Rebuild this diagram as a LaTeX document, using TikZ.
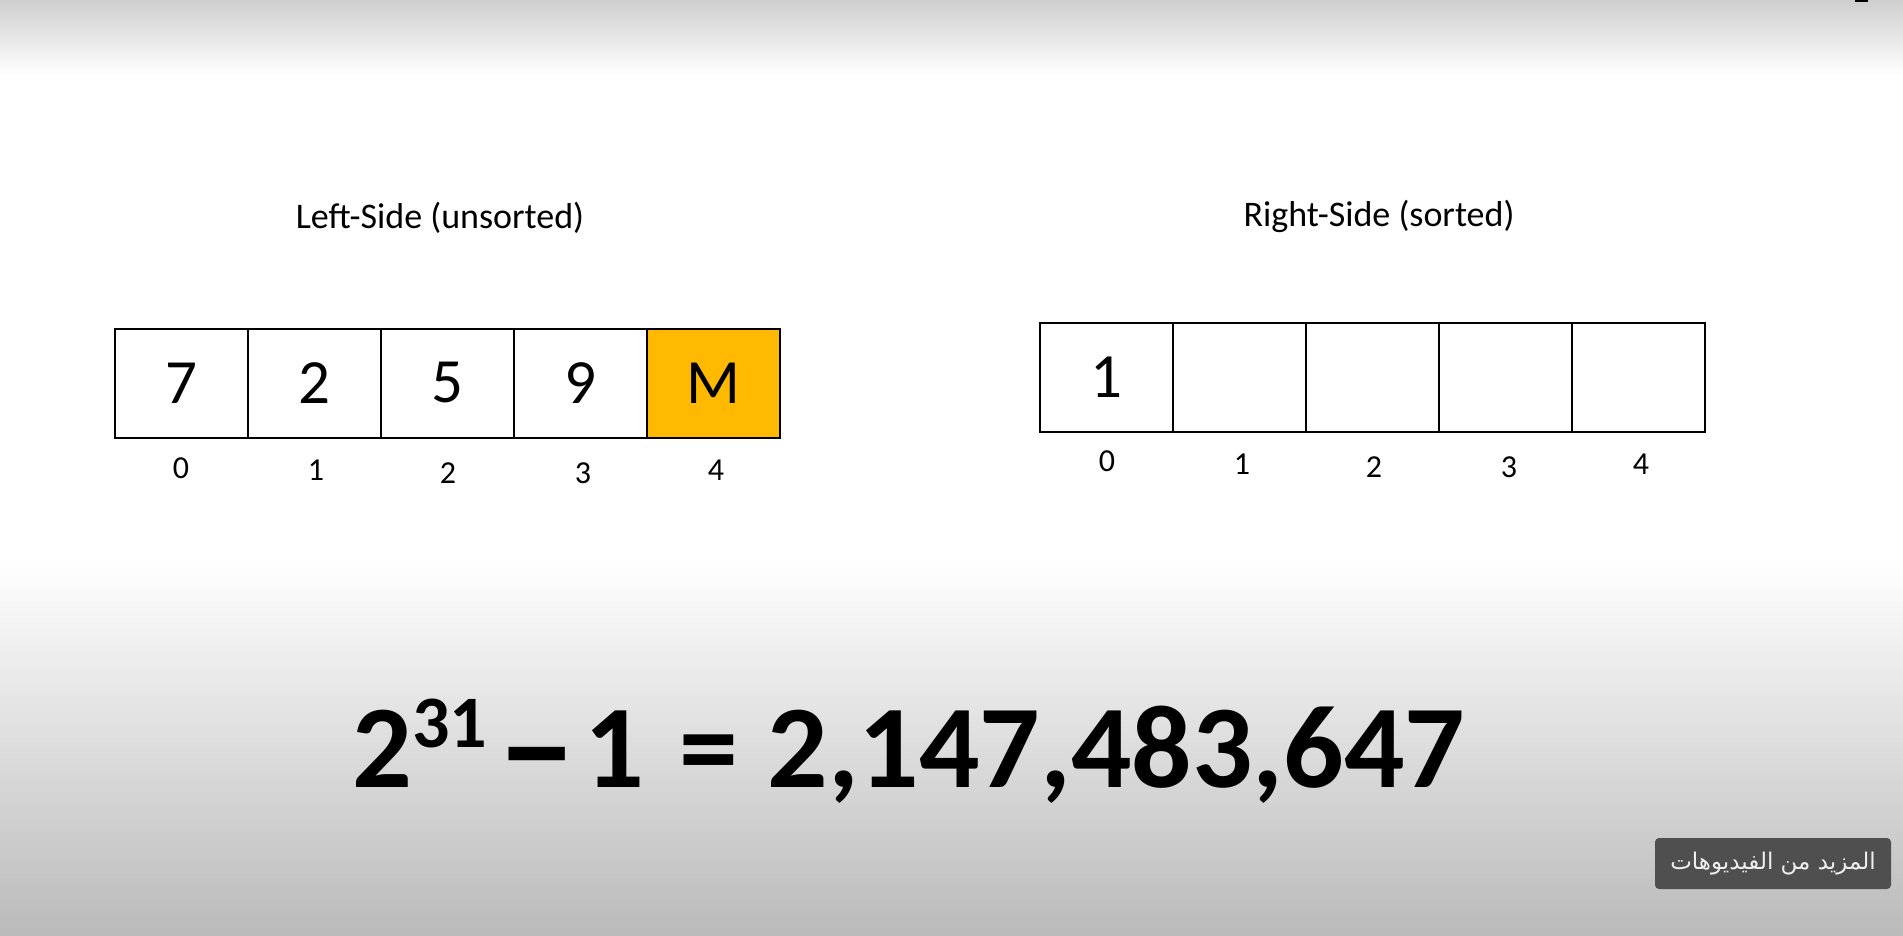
\documentclass[tikz,border=0pt]{standalone}
\usepackage{fontspec}
\setmainfont{Carlito}
\newfontfamily\arabicfont[Script=Arabic]{DejaVu Sans}
\TeXXeTstate=1
\definecolor{gold}{RGB}{255,185,0}
\definecolor{topgray}{RGB}{206,206,206}
\definecolor{botgray}{RGB}{186,186,186}
\definecolor{btngray}{RGB}{79,79,79}
\definecolor{btntext}{RGB}{238,238,238}
\begin{document}
\begin{tikzpicture}[x=1pt,y=-1pt,
  cell/.style={draw=black, line width=2pt, minimum width=133pt, minimum height=109pt, inner sep=0pt, font=\fontsize{63}{63}\selectfont},
  idx/.style={font=\fontsize{32}{32}\selectfont, anchor=base, inner sep=0pt},
  ttl/.style={font=\fontsize{36}{36}\selectfont, anchor=base, inner sep=0pt}]
% background
\fill[white] (0,0) rectangle (1903,936);
\shade[top color=topgray, bottom color=white] (0,0) rectangle (1903,75);
\shade[top color=white, bottom color=botgray] (0,560) rectangle (1903,936);
\useasboundingbox (0,0) rectangle (1903,936);
\fill[black] (1855,0) rectangle (1868,2);
% titles
\node[ttl] (tl) at (440,229) {Left-Side (unsorted)};
\node[ttl] (tr) at (1379,226) {Right-Side (sorted)};
% left array
\node[cell] (l0) at (181,383) {7};
\node[cell] (l1) at (314,383) {2};
\node[cell] (l2) at (447,383) {5};
\node[cell] (l3) at (580,383) {9};
\node[cell, fill=gold] (l4) at (713,383) {M};
\node[idx] (li0) at (181,478) {0};
\node[idx] (li1) at (316,480) {1};
\node[idx] (li2) at (448,483) {2};
\node[idx] (li3) at (583,483) {3};
\node[idx] (li4) at (716,480) {4};
% right array
\node[cell] (r0) at (1106.5,377.5) {1};
\node[cell] (r1) at (1239.5,377.5) {};
\node[cell] (r2) at (1372.5,377.5) {};
\node[cell] (r3) at (1505.5,377.5) {};
\node[cell] (r4) at (1638.5,377.5) {};
\node[idx] (ri0) at (1107,471) {0};
\node[idx] (ri1) at (1242,474) {1};
\node[idx] (ri2) at (1374,477) {2};
\node[idx] (ri3) at (1509,477) {3};
\node[idx] (ri4) at (1641,474) {4};
% formula
\node[anchor=base west, inner sep=0pt, font=\fontsize{118}{118}\selectfont\bfseries] (f) at (352,787)
  {2\raisebox{40pt}{\fontsize{74}{74}\selectfont 31}%
   \makebox[100pt][c]{\raisebox{-10pt}{\scalebox{1.35}[1.3]{–}}}%
   \makebox[55pt][c]{1}%
   \makebox[134pt][c]{=}%
   \hspace{-8.5pt}\scalebox{1.012}[1]{2,147,483,647}};
% button
\node[fill=btngray, rounded corners=4pt, minimum width=236pt, minimum height=51pt, inner sep=0pt,
  text=btntext, font=\fontsize{23}{23}\selectfont\arabicfont] (btn) at (1773,863.5)
  {\beginR المزيد من الفيديوهات\endR};
\end{tikzpicture}
\end{document}
